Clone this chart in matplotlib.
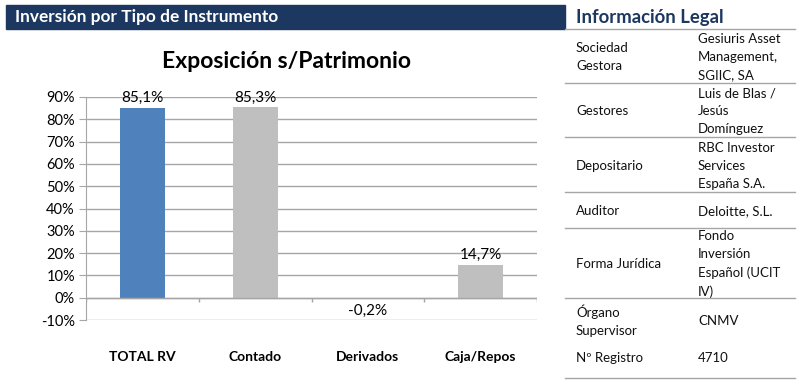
import matplotlib.pyplot as plt
import numpy as np

plt.rcParams['font.family'] = ['Lato', 'DejaVu Sans']

W, H = 801, 388

categorias = ["TOTAL RV", "Contado", "Derivados", "Caja/Repos"]
valores = [0.851, 0.853, -0.002, 0.147]
etiquetas = ["85,1%", "85,3%", "-0,2%", "14,7%"]
colores = ["#4f81bd", "#bfbfbf", "#bfbfbf", "#bfbfbf"]
yticks = np.arange(-0.1, 0.91, 0.1)

tabla_izq = ["Sociedad\nGestora", "Gestores", "Depositario", "Auditor",
             "Forma Jurídica", "Órgano\nSupervisor", "Nº Registro"]
tabla_der = ["Gesiuris Asset\nManagement,\nSGIIC, SA", "Luis de Blas /\nJesús\nDomínguez",
             "RBC Investor\nServices\nEspaña S.A.", "Deloitte, S.L.",
             "Fondo\nInversión\nEspañol (UCIT\nIV)", "CNMV", "4710"]
# posiciones verticales (px) de cada fila y de las líneas separadoras
filas_y = [57, 111, 166, 211, 264, 321, 358]
lineas_y = [29, 83, 137, 192, 228, 298, 378]

navy = "#1c3760"
gris = "#a6a6a6"


def fx(x):
    return x / W


def fy(y):
    return 1 - y / H


fig = plt.figure(figsize=(W / 100, H / 100), dpi=100)
fig.patch.set_facecolor("white")

# barra de cabecera
fig.patches.append(plt.Rectangle((fx(6), fy(29)), fx(565) - fx(6), fy(5) - fy(29),
                                 transform=fig.transFigure, color=navy, zorder=0))
fig.text(fx(15), fy(17), "Inversión por Tipo de Instrumento", color="white",
         fontsize=12.4, fontweight="bold", va="center", ha="left")
fig.text(fx(576), fy(17), "Información Legal", color=navy,
         fontsize=13.3, fontweight="bold", va="center", ha="left")

# tabla de información legal
for y in lineas_y:
    fig.add_artist(plt.Line2D([fx(565), fx(795)], [fy(y), fy(y)],
                              transform=fig.transFigure, color=gris, lw=1))
for izq, der, y in zip(tabla_izq, tabla_der, filas_y):
    fig.text(fx(576), fy(y), izq, fontsize=9.5, va="center", ha="left",
             linespacing=1.58, color="#111111")
    fig.text(fx(698), fy(y), der, fontsize=9.5, va="center", ha="left",
             linespacing=1.58, color="#111111")

# gráfico
fig.text(fx(287), fy(62), "Exposición s/Patrimonio", fontsize=16.5,
         fontweight="bold", ha="center", va="center")

ax = fig.add_axes([fx(86), fy(320), fx(537) - fx(86), fy(97) - fy(320)])
x = np.arange(len(categorias))
ax.bar(x, valores, width=0.4, color=colores, zorder=3)
ax.set_xlim(-0.5, len(categorias) - 0.5)
ax.set_ylim(-0.1, 0.9)
ax.set_yticks(yticks)
ax.set_yticklabels([f"{round(v * 100):d}%" for v in yticks], fontsize=10.5)
ax.yaxis.grid(True, color=gris, lw=1, zorder=0)
ax.set_xticks(x)
ax.set_xticklabels(categorias, fontsize=10, fontweight="bold")
ax.tick_params(axis="x", length=0, pad=22)
ax.tick_params(axis="y", length=5, color=gris, pad=3)
for s in ["top", "right", "bottom"]:
    ax.spines[s].set_visible(False)
ax.spines["left"].set_color(gris)

# eje horizontal en 0 con marcas entre categorías
ax.axhline(0, color=gris, lw=1, zorder=4)
ax.vlines(np.arange(-0.5, len(categorias)), 0, -0.018, color=gris, lw=1, zorder=4)

for xi, v, t in zip(x, valores, etiquetas):
    if v >= 0:
        ax.annotate(t, (xi, v), xytext=(0, 2), textcoords="offset points",
                    ha="center", va="bottom", fontsize=11, zorder=5)
    else:
        ax.annotate(t, (xi, v), xytext=(0, -4), textcoords="offset points",
                    ha="center", va="top", fontsize=11, zorder=5)

fig.savefig("out.png", dpi=100)
